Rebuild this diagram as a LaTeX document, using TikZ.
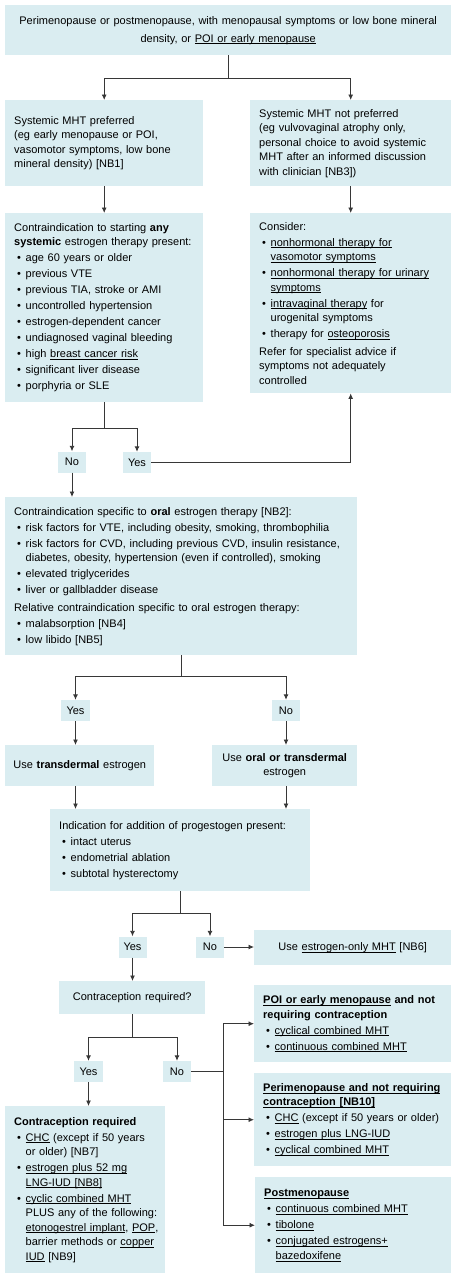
\documentclass[tikz,border=0pt]{standalone}
\usepackage{fontspec}
\setmainfont{Liberation Sans}
\usetikzlibrary{arrows.meta}
\definecolor{boxblue}{RGB}{218,237,241}
\definecolor{linegray}{RGB}{55,55,55}
\newcommand\uln[1]{\leavevmode\setbox0=\hbox{#1}\rlap{\rule[-1.8pt]{\wd0}{0.5pt}}\box0\relax}
\newcommand\itm{\par\vspace{1.5pt}\hangindent=11.5pt\hangafter=1\noindent\hbox to 11.5pt{\hskip3pt\textbullet\hss}}
\newcommand\npar{\par\vspace{3pt}\noindent}
\newcommand\nl{\newline}
\newcommand\fs{\fontsize{11}{14.5}\selectfont\hyphenpenalty=10000\exhyphenpenalty=10000\hfuzz=20pt}
\begin{document}
\begin{tikzpicture}[x=1pt,y=-1pt,
  bx/.style={fill=boxblue, anchor=north west, inner xsep=9pt, inner ysep=0pt, align=left, font=\fs},
  yn/.style={fill=boxblue, minimum width=28pt, minimum height=21pt, inner sep=0pt, font=\fs},
  ln/.style={draw=linegray, line width=0.9pt},
  arr/.style={ln, -{Latex[length=5.5pt,width=5pt]}}]
\useasboundingbox (0,0) rectangle (456,1280);

\node[bx, inner xsep=4pt, text width=438pt, minimum width=446pt, minimum height=50pt, align=center, font=\fontsize{11}{18}\selectfont] (top) at (5,5)
 {Perimenopause or postmenopause, with menopausal symptoms or low bone mineral\\ density, or \uln{POI or early menopause}};

\node[bx, text width=180pt, minimum width=198pt, minimum height=86pt] (pref) at (5,100)
 {Systemic MHT preferred\\(eg early menopause or POI,\\vasomotor symptoms, low bone\\mineral density) [NB1]};

\node[bx, text width=183pt, minimum width=201pt, minimum height=86pt] (notpref) at (250,100)
 {Systemic MHT not preferred\\(eg vulvovaginal atrophy only,\\personal choice to avoid systemic\\MHT after an informed discussion\\with clinician [NB3])};

\node[bx, text width=180pt, minimum width=198pt, minimum height=189pt] (ci) at (5,213)
 {Contraindication to starting \textbf{any}\\\textbf{systemic} estrogen therapy present:
 \itm age 60 years or older
 \itm previous VTE
 \itm previous TIA, stroke or AMI
 \itm uncontrolled hypertension
 \itm estrogen-dependent cancer
 \itm undiagnosed vaginal bleeding
 \itm high \uln{breast cancer risk}
 \itm significant liver disease
 \itm porphyria or SLE\par};

\node[bx, text width=183pt, minimum width=201pt, minimum height=180pt] (consider) at (250,213)
 {Consider:
 \itm \uln{nonhormonal therapy for}\nl\uln{vasomotor symptoms}
 \itm \uln{nonhormonal therapy for urinary}\nl\uln{symptoms}
 \itm \uln{intravaginal therapy} for\nl urogenital symptoms
 \itm therapy for \uln{osteoporosis}
 \npar Refer for specialist advice if\\symptoms not adequately\\controlled\par};

\node[yn] (no1) at (72,462) {No};
\node[yn] (yes1) at (137,462.5) {Yes};

\node[bx, text width=334pt, minimum width=352pt, minimum height=158pt] (oral) at (5,497)
 {Contraindication specific to \textbf{oral} estrogen therapy [NB2]:
 \itm risk factors for VTE, including obesity, smoking, thrombophilia
 \itm risk factors for CVD, including previous CVD, insulin resistance,\nl diabetes, obesity, hypertension (even if controlled), smoking
 \itm elevated triglycerides
 \itm liver or gallbladder disease
 \npar Relative contraindication specific to oral estrogen therapy:
 \itm malabsorption [NB4]
 \itm low libido [NB5]\par};

\node[yn, minimum width=29pt] (yes2) at (75.5,710.5) {Yes};
\node[yn] (no2) at (286,710.5) {No};

\node[bx, inner xsep=3pt, text width=143pt, minimum width=149pt, minimum height=41pt, align=center] (transd) at (5,745)
 {Use \textbf{transdermal} estrogen};
\node[bx, text width=127pt, minimum width=145pt, minimum height=41pt, align=center] (oralort) at (212,745)
 {Use \textbf{oral or transdermal}\\estrogen};

\node[bx, text width=242pt, minimum width=260pt, minimum height=82pt] (prog) at (50,809)
 {Indication for addition of progestogen present:
 \itm intact uterus
 \itm endometrial ablation
 \itm subtotal hysterectomy\par};

\node[yn, minimum height=21pt] (yes3) at (132.5,947) {Yes};
\node[yn, minimum height=21pt] (no3) at (210,947) {No};

\node[bx, text width=179pt, minimum width=197pt, minimum height=35pt, align=center] (eonly) at (254,930)
 {Use \uln{estrogen-only MHT} [NB6]};

\node[bx, text width=128pt, minimum width=146pt, minimum height=33pt, align=center] (contraq) at (59,981)
 {Contraception required?};

\node[yn, minimum width=29pt] (yes4) at (88.5,1071.5) {Yes};
\node[yn] (no4) at (177,1071.5) {No};

\node[bx, text width=142pt, minimum width=160pt, minimum height=167pt] (creq) at (5,1106)
 {\textbf{Contraception required}
 \itm \uln{CHC} (except if 50 years\nl or older) [NB7]
 \itm \uln{estrogen plus 52 mg}\nl\uln{LNG-IUD [NB8]}
 \itm \uln{cyclic combined MHT}\nl\mbox{PLUS any of the following:}\nl\mbox{\uln{etonogestrel implant}, \uln{POP},}\nl\mbox{barrier methods or \uln{copper}}\nl\uln{IUD} [NB9]\par};

\node[bx, text width=179pt, minimum width=197pt, minimum height=77pt] (poi) at (254,985)
 {\textbf{\uln{POI or early menopause} and not}\\\textbf{requiring contraception}
 \itm \uln{cyclical combined MHT}
 \itm \uln{continuous combined MHT}\par};

\node[bx, text width=179pt, minimum width=197pt, minimum height=93pt] (peri) at (254,1073)
 {\textbf{\uln{Perimenopause and not requiring}}\\\textbf{\uln{contraception [NB10]}}
 \itm \uln{CHC} (except if 50 years or older)
 \itm \uln{estrogen plus LNG-IUD}
 \itm \uln{cyclical combined MHT}\par};

\node[bx, text width=178pt, minimum width=196pt, minimum height=96pt] (post) at (255,1177)
 {\textbf{\uln{Postmenopause}}
 \itm \uln{continuous combined MHT}
 \itm \uln{tibolone}
 \itm \uln{conjugated estrogens+}\nl\uln{bazedoxifene}\par};

% connectors
\draw[ln] (top.south) -- ++(0,23) coordinate (j1);
\draw[arr] (j1) -| (pref.north);
\draw[arr] (j1) -| (notpref.north);
\draw[arr] (pref.south) -- (ci.north);
\draw[arr] (notpref.south) -- (consider.north);
\draw[ln] (ci.south) -- ++(0,26) coordinate (j2);
\draw[arr] (j2) -| (no1.north);
\draw[arr] (j2) -| (yes1.north);
\draw[arr] (yes1.east) -| (consider.south);
\draw[arr] (no1.south) -- (no1.south |- oral.north);
\draw[ln] (oral.south) -- ++(0,21) coordinate (j3);
\draw[arr] (j3) -| (yes2.north);
\draw[arr] (j3) -| (no2.north);
\draw[arr] (yes2.south) -- (yes2.south |- transd.north);
\draw[arr] (no2.south) -- (no2.south |- oralort.north);
\draw[arr] (transd.south -| yes2.south) -- (prog.north -| yes2.south);
\draw[arr] (oralort.south -| no2.south) -- (prog.north -| no2.south);
\draw[ln] (prog.south) -- ++(0,22) coordinate (j4);
\draw[arr] (j4) -| (yes3.north);
\draw[arr] (j4) -| (no3.north);
\draw[arr] (no3.east) -- (no3.east -| eonly.west);
\draw[arr] (yes3.south) -- (yes3.south |- contraq.north);
\draw[ln] (contraq.south) -- ++(0,23) coordinate (j5);
\draw[arr] (j5) -| (yes4.north);
\draw[arr] (j5) -| (no4.north);
\draw[arr] (yes4.south) -- (yes4.south |- creq.north);
\coordinate (j6) at (223,1072);
\draw[ln] (no4.east) -- (no4.east -| j6);
\draw[ln] (j6 |- poi.west) -- (j6 |- post.west);
\draw[arr] (j6 |- poi.west) -- (poi.west);
\draw[arr] (j6 |- peri.west) -- (peri.west);
\draw[arr] (j6 |- post.west) -- (post.west);
\end{tikzpicture}
\end{document}
